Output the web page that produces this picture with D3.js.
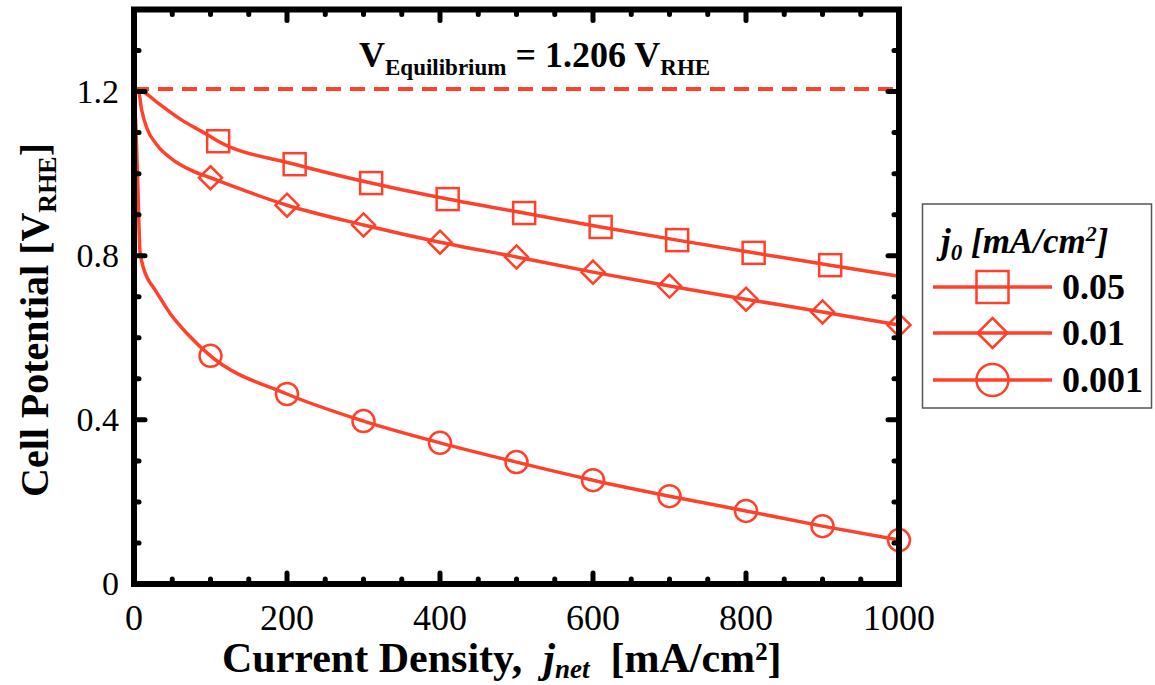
<!DOCTYPE html>
<html>
<head>
<meta charset="utf-8">
<script src="https://cdn.jsdelivr.net/npm/d3@7"></script>
<style>
  body { margin: 0; background: #fff; }
  svg { font-family: "Liberation Serif", "Times New Roman", serif; }
</style>
</head>
<body>
<svg id="chart" width="1155" height="685"></svg>
<script>
// values
const xTicks = [0, 200, 400, 600, 800, 1000];
const yTicks = [0, 0.4, 0.8, 1.2];
const vEq = 1.206;

const jA = [0, 5, 15, 32, 62, 93, 110, 210, 310, 410, 510, 610, 710, 810, 910, 1000];
const vA = [1.206, 1.205, 1.196, 1.171, 1.131, 1.098, 1.079, 1.023, 0.977, 0.938, 0.904, 0.870, 0.838, 0.807, 0.777, 0.750];
const markA = [110, 210, 310, 410, 510, 610, 710, 810, 910];

const jB = [0, 6, 10, 17, 30, 50, 75, 100, 200, 300, 400, 500, 600, 700, 800, 900, 1000];
const vB = [1.206, 1.200, 1.155, 1.110, 1.070, 1.035, 1.008, 0.990, 0.923, 0.875, 0.833, 0.797, 0.760, 0.726, 0.694, 0.663, 0.631];
const markB = [100, 200, 300, 400, 500, 600, 700, 800, 900, 1000];

const jC = [0, 2.6, 4.8, 8, 19, 25, 47, 69, 100, 200, 300, 400, 500, 600, 700, 800, 900, 1000];
const vC = [1.206, 1.106, 0.984, 0.807, 0.740, 0.724, 0.660, 0.611, 0.556, 0.463, 0.397, 0.344, 0.297, 0.253, 0.214, 0.178, 0.141, 0.107];
const markC = [100, 200, 300, 400, 500, 600, 700, 800, 900, 1000];

const seriesNames = ["0.05", "0.01", "0.001"];

const red = "#ff402b";

const svg = d3.select("#chart");
const x = d3.scaleLinear().domain([0, 1000]).range([134, 899]);
const y = d3.scaleLinear().domain([0, 1.4]).range([584, 9.5]);

const series = [
  {j: jA, v: vA, marks: markA, shape: "square"},
  {j: jB, v: vB, marks: markB, shape: "diamond"},
  {j: jC, v: vC, marks: markC, shape: "circle"}
];

// equilibrium line
svg.append("line")
  .attr("x1", x(0)).attr("x2", x(1000))
  .attr("y1", y(vEq)).attr("y2", y(vEq))
  .attr("stroke", red).attr("stroke-width", 4)
  .attr("stroke-dasharray", "15,9");

const line = d3.line().x(d => x(d[0])).y(d => y(d[1])).curve(d3.curveMonotoneX);

function drawMarker(g, shape, cx, cy, s) {
  if (shape === "square") {
    g.append("rect").attr("x", cx - s / 2).attr("y", cy - s / 2)
      .attr("width", s).attr("height", s)
      .attr("fill", "none").attr("stroke", red).attr("stroke-width", 2.5);
  } else if (shape === "diamond") {
    const h = s / 2;
    g.append("path").attr("d", `M${cx},${cy - h}L${cx + h},${cy}L${cx},${cy + h}L${cx - h},${cy}Z`)
      .attr("fill", "none").attr("stroke", red).attr("stroke-width", 2.5);
  } else {
    g.append("circle").attr("cx", cx).attr("cy", cy).attr("r", s / 2)
      .attr("fill", "none").attr("stroke", red).attr("stroke-width", 2.5);
  }
}

const plot = svg.append("g");
series.forEach(s => {
  const pts = s.j.map((d, i) => [d, s.v[i]]);
  plot.append("path").datum(pts)
    .attr("d", line)
    .attr("fill", "none").attr("stroke", red).attr("stroke-width", 3.5);
  const mg = plot.append("g");
  s.marks.forEach(m => {
    const i = s.j.indexOf(m);
    drawMarker(mg, s.shape, x(m), y(s.v[i]), s.shape === "diamond" ? 23 : 22);
  });
});

// frame
svg.append("rect")
  .attr("x", x(0)).attr("y", y(1.4))
  .attr("width", x(1000) - x(0)).attr("height", y(0) - y(1.4))
  .attr("fill", "none").attr("stroke", "#000").attr("stroke-width", 6);

// ticks (inward, round caps)
const tickG = svg.append("g").attr("stroke", "#000").attr("stroke-width", 5).attr("stroke-linecap", "round");
d3.range(0, 1001, 50).forEach(v => {
  const len = v % 200 === 0 ? 11 : 5;
  if (v === 0 || v === 1000) return;
  tickG.append("line").attr("x1", x(v)).attr("x2", x(v)).attr("y1", y(0)).attr("y2", y(0) - len);
  tickG.append("line").attr("x1", x(v)).attr("x2", x(v)).attr("y1", y(1.4)).attr("y2", y(1.4) + len);
});
d3.range(1, 14).forEach(k => {
  const v = k / 10;
  const len = k % 4 === 0 ? 11 : 5;
  tickG.append("line").attr("x1", x(0)).attr("x2", x(0) + len).attr("y1", y(v)).attr("y2", y(v));
  tickG.append("line").attr("x1", x(1000)).attr("x2", x(1000) - len).attr("y1", y(v)).attr("y2", y(v));
});

// tick labels
svg.append("g").selectAll("text").data(xTicks).join("text")
  .attr("x", d => x(d)).attr("y", 630)
  .attr("text-anchor", "middle").attr("font-size", 36)
  .text(d => d);
svg.append("g").selectAll("text").data(yTicks).join("text")
  .attr("x", 119).attr("y", d => y(d) + 11)
  .attr("text-anchor", "end").attr("font-size", 34)
  .text(d => d === 0 ? "0" : d.toFixed(1));

// axis titles
const xt = svg.append("text").attr("x", 222).attr("y", 672)
  .attr("font-size", 42).attr("font-weight", "bold")
  .style("white-space", "pre");
xt.append("tspan").text("Current Density,  ");
xt.append("tspan").attr("font-style", "italic").text("j");
xt.append("tspan").attr("font-style", "italic").attr("font-size", 27).attr("dy", 6).text("net");
xt.append("tspan").attr("dy", -6).text("  [mA/cm²]");

const yt = svg.append("text")
  .attr("transform", "translate(48,497) rotate(-90)")
  .attr("font-size", 40).attr("font-weight", "bold");
yt.append("tspan").text("Cell Potential [V");
yt.append("tspan").attr("font-size", 26).attr("dy", 8).text("RHE");
yt.append("tspan").attr("dy", -8).text("]");

// annotation
const an = svg.append("text").attr("x", 359).attr("y", 67)
  .attr("font-size", 36).attr("font-weight", "bold");
an.append("tspan").text("V");
an.append("tspan").attr("font-size", 23).attr("dy", 8).text("Equilibrium");
an.append("tspan").attr("dy", -8).text(" = 1.206 V");
an.append("tspan").attr("font-size", 23).attr("dy", 8).text("RHE");

// legend
const lg = svg.append("g");
lg.append("rect").attr("x", 922.5).attr("y", 204).attr("width", 229).attr("height", 204)
  .attr("fill", "#fff").attr("stroke", "#555").attr("stroke-width", 1.5);
const lt = lg.append("text").attr("x", 941).attr("y", 253)
  .attr("font-size", 35).attr("font-weight", "bold").attr("font-style", "italic");
lt.append("tspan").text("j");
lt.append("tspan").attr("font-size", 23).attr("dy", 7).text("0");
lt.append("tspan").attr("dy", -7).text(" [mA/cm");
lt.append("tspan").attr("font-size", 22).attr("dy", -12).text("2");
lt.append("tspan").attr("dy", 12).text("]");
const rowY = [287, 333, 380];
series.forEach((s, i) => {
  lg.append("line").attr("x1", 933).attr("x2", 1052).attr("y1", rowY[i]).attr("y2", rowY[i])
    .attr("stroke", red).attr("stroke-width", 3.5);
  drawMarker(lg, s.shape, 992.5, rowY[i], s.shape === "diamond" ? 30 : 32);
  lg.append("text").attr("x", 1062).attr("y", rowY[i] + 12)
    .attr("font-size", 36).attr("font-weight", "bold").text(seriesNames[i]);
});
</script>
</body>
</html>
